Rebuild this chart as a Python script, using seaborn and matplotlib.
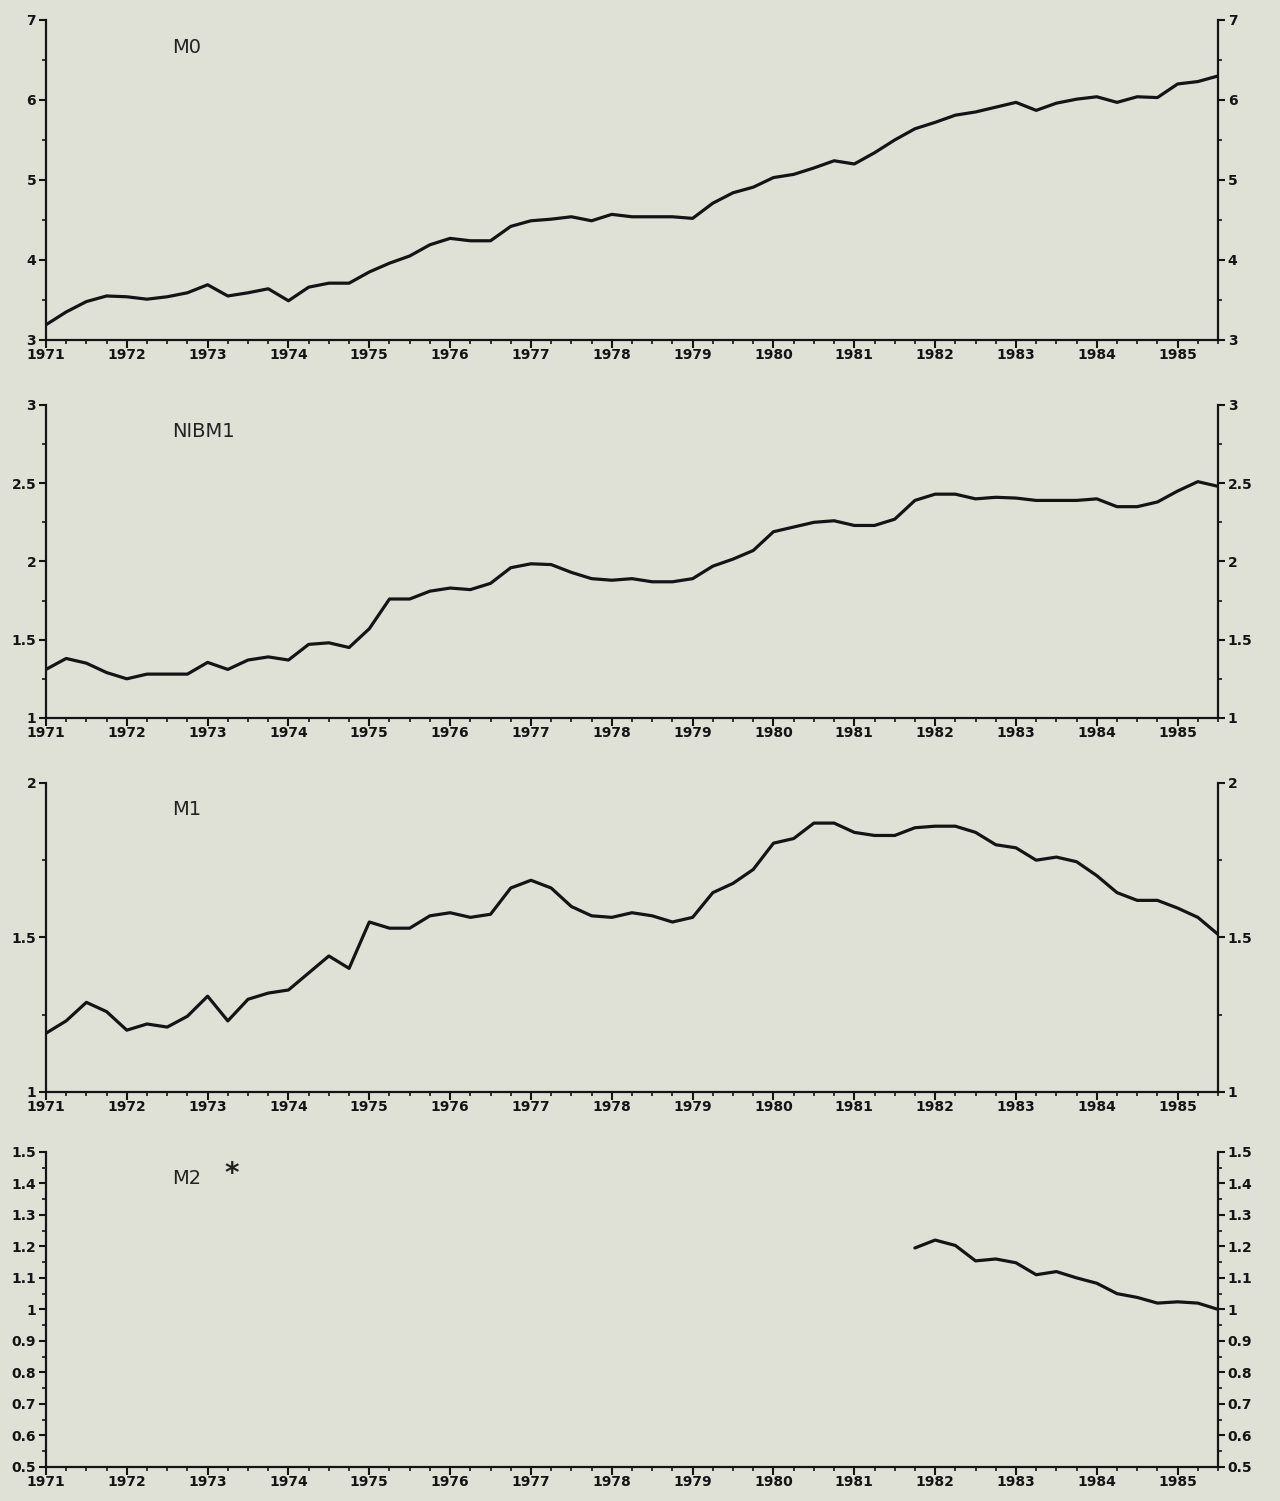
import numpy as np
import pandas as pd
import seaborn as sns
import matplotlib.pyplot as plt
from matplotlib.ticker import MultipleLocator

# quarterly observations 1971Q1 .. 1985Q3
quarters = np.arange(1971, 1985.51, 0.25)
years = list(range(1971, 1986))

m0 = [3.19, 3.35, 3.48, 3.55, 3.54, 3.51, 3.54, 3.59, 3.69, 3.55,
      3.59, 3.64, 3.49, 3.66, 3.71, 3.71, 3.85, 3.96, 4.05, 4.19,
      4.27, 4.24, 4.24, 4.42, 4.49, 4.51, 4.54, 4.49, 4.57, 4.54,
      4.54, 4.54, 4.52, 4.71, 4.84, 4.91, 5.03, 5.07, 5.15, 5.24,
      5.20, 5.34, 5.50, 5.64, 5.72, 5.81, 5.85, 5.91, 5.97, 5.87,
      5.96, 6.01, 6.04, 5.97, 6.04, 6.03, 6.20, 6.23, 6.30]

nibm1 = [1.31, 1.38, 1.35, 1.29, 1.25, 1.28, 1.28, 1.28, 1.355, 1.31,
         1.37, 1.39, 1.37, 1.47, 1.48, 1.45, 1.57, 1.76, 1.76, 1.81,
         1.83, 1.82, 1.86, 1.96, 1.985, 1.98, 1.93, 1.89, 1.88, 1.89,
         1.87, 1.87, 1.89, 1.97, 2.015, 2.07, 2.19, 2.22, 2.25, 2.26,
         2.23, 2.23, 2.27, 2.39, 2.43, 2.43, 2.40, 2.41, 2.405, 2.39,
         2.39, 2.39, 2.40, 2.35, 2.35, 2.38, 2.45, 2.51, 2.48]

m1 = [1.19, 1.23, 1.29, 1.26, 1.20, 1.22, 1.21, 1.245, 1.31, 1.23,
      1.30, 1.32, 1.33, 1.385, 1.44, 1.40, 1.55, 1.53, 1.53, 1.57,
      1.58, 1.565, 1.575, 1.66, 1.685, 1.66, 1.60, 1.57, 1.565, 1.58,
      1.57, 1.55, 1.565, 1.645, 1.675, 1.72, 1.805, 1.82, 1.87, 1.87,
      1.84, 1.83, 1.83, 1.855, 1.86, 1.86, 1.84, 1.80, 1.79, 1.75,
      1.76, 1.745, 1.70, 1.645, 1.62, 1.62, 1.595, 1.565, 1.51]

# M2 only available from 1981Q4
m2_start = 43
m2 = [1.195, 1.22, 1.203, 1.154, 1.16, 1.148, 1.11, 1.12, 1.10, 1.083,
      1.05, 1.038, 1.02, 1.024, 1.02, 1.00]

bg = '#e0e1d6'
sns.set_theme(style="ticks", rc={"axes.facecolor": bg, "figure.facecolor": bg})
plt.rcParams['font.family'] = ['DejaVu Sans']

panels = [
    ("M0", quarters, m0, (3, 7), 1, 0.5, [0.7735, 0.2132]),
    ("NIBM1", quarters, nibm1, (1, 3), 0.5, 0.25, [0.5217, 0.2085]),
    ("M1", quarters, m1, (1, 2), 0.5, 0.25, [0.2725, 0.2059]),
    ("M2", quarters[m2_start:], m2, (0.5, 1.5), 0.1, 0.05, [0.0227, 0.2099]),
]

fig = plt.figure(figsize=(12.8, 15.01), dpi=100)

for name, x, y, ylim, major, minor, (bottom, height) in panels:
    ax = fig.add_axes([0.0359, bottom, 0.9157, height])
    df = pd.DataFrame({"quarter": x, "value": y})
    sns.lineplot(data=df, x="quarter", y="value", ax=ax, color='#141414', linewidth=2.3)
    ax.set_xlim(1971, 1985.5)
    ax.set_ylim(*ylim)
    ax.set_xticks(years)
    ax.set_xticklabels([str(yr) for yr in years])
    ax.xaxis.set_minor_locator(MultipleLocator(0.25))
    ax.yaxis.set_major_locator(MultipleLocator(major))
    ax.yaxis.set_minor_locator(MultipleLocator(minor))
    ax.yaxis.set_major_formatter(plt.FuncFormatter(lambda v, p: f"{v:g}"))
    ax.set_xlabel("")
    ax.set_ylabel("")
    for s in ["left", "bottom", "right"]:
        ax.spines[s].set_linewidth(1.6)
        ax.spines[s].set_color('#141414')
    ax.spines["top"].set_visible(False)
    ax.tick_params(axis='y', which='both', left=True, right=True, labelleft=True,
                   labelright=True, direction='out', colors='#141414', labelsize=10, pad=2)
    ax.tick_params(axis='y', which='major', length=5, width=1.5)
    ax.tick_params(axis='y', which='minor', length=3, width=1.2)
    ax.tick_params(axis='x', which='major', length=6, width=1.5, labelsize=10, pad=0,
                   colors='#141414')
    ax.tick_params(axis='x', which='minor', length=3, width=1.2, colors='#141414')
    for lab in ax.get_xticklabels() + ax.get_yticklabels():
        lab.set_fontweight('bold')
    ax.text(0.108, 0.915, name, transform=ax.transAxes, fontsize=14,
            color='#222222', va='center', ha='left')
    if name == "M2":
        ax.text(0.152, 0.93, "*", transform=ax.transAxes, fontsize=20,
                fontweight='bold', color='#222222', va='center', ha='left')

fig.savefig("out.png", dpi=100, facecolor=bg)
